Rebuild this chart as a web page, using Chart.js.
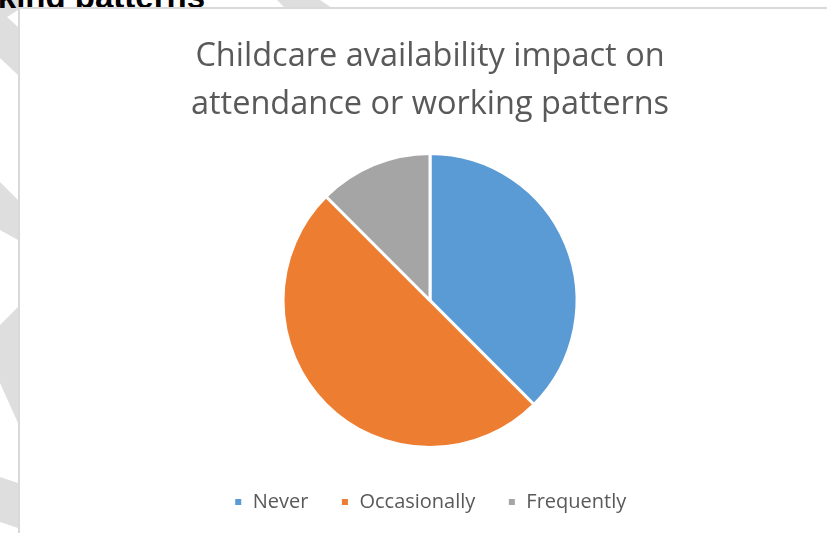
<!doctype html>
<html lang="en">
<head>
<meta charset="utf-8">
<title>Childcare availability impact</title>
<script src="https://cdn.jsdelivr.net/npm/chart.js@4.4.0/dist/chart.umd.min.js"></script>
<style>
  html, body { margin: 0; padding: 0; background: #fff; overflow: hidden; }
  body { width: 827px; height: 533px; position: relative; }
  .deco { position: absolute; left: 0; top: 0; width: 827px; height: 533px; }
  .heading {
    position: absolute; right: 622px; top: -20px;
    font: bold 33px/34px "Liberation Sans", Arial, sans-serif; color: #000;
    white-space: nowrap;
  }
  .box {
    position: absolute; left: 18px; top: 7px; width: 820px; height: 540px;
    border: 2px solid #d9d9d9; background: #fff;
  }
  #pieChart { position: absolute; left: 20px; top: 9px; }
</style>
</head>
<body>
<svg class="deco" width="827" height="533">
  <g fill="#dedede">
    <polygon points="0,0 18,0 18,10 7,17 18,27 18,75 0,58"/>
    <polygon points="0,182 18,200 18,240 0,230"/>
    <polygon points="0,325 18,307 18,423 0,383"/>
    <polygon points="0,477 18,483 18,528 0,522"/>
    <polygon points="277,0 320,0 332,8 285,8"/>
  </g>
</svg>
<div class="heading">orking patterns</div>
<div class="box"></div>
<canvas id="pieChart" width="807" height="524"></canvas>
<script>
// answers to the survey question
var labels = ["Never", "Occasionally", "Frequently"];
var counts = [6, 8, 2];
var colours = ["#5b9bd5", "#ed7d31", "#a5a5a5"];
var titleLines = ["Childcare availability impact on", "attendance or working patterns"];

const CANVAS = document.getElementById("pieChart");

let pieChart = new Chart(CANVAS, {
  type: "pie",
  data: {
    labels: labels,
    datasets: [{
      data: counts,
      backgroundColor: colours,
      borderColor: "#ffffff",
      borderWidth: 3,
      radius: 147
    }]
  },
  options: {
    responsive: false,
    animation: false,
    layout: { padding: { left: 13, right: 0, top: 24, bottom: 11 } },
    plugins: {
      title: {
        display: true,
        text: titleLines,
        color: "#595959",
        font: { family: "'Open Sans', sans-serif", size: 32.5, weight: "normal", lineHeight: 1.477 },
        padding: { top: 0, bottom: 12 }
      },
      legend: {
        position: "bottom",
        labels: {
          color: "#595959",
          font: { family: "'Open Sans', sans-serif", size: 20 },
          boxWidth: 9,
          boxHeight: 9,
          padding: 32
        }
      },
      tooltip: { enabled: false }
    }
  }
});
</script>
</body>
</html>
